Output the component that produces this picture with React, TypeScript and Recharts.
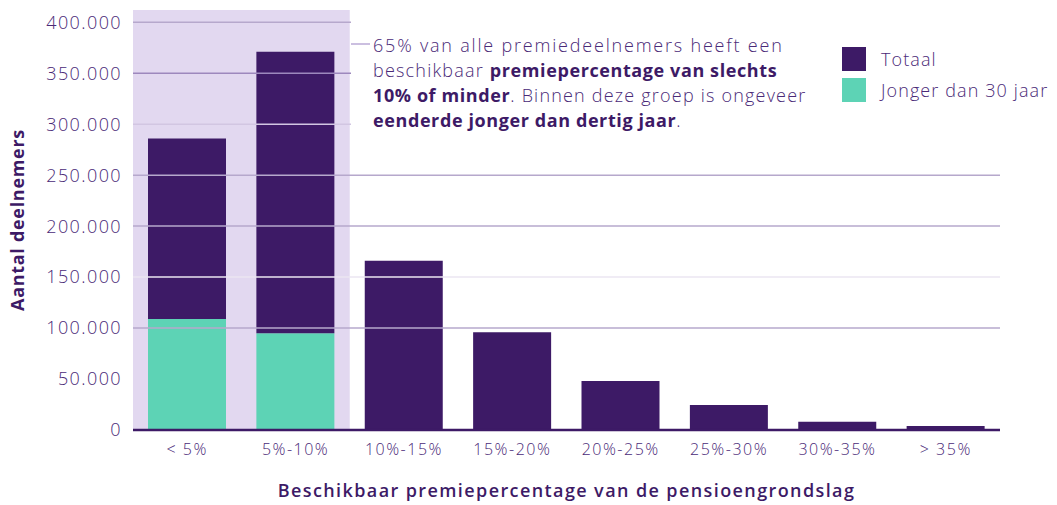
import { BarChart, Bar, XAxis, YAxis, ReferenceArea, ReferenceLine, Label } from "recharts"

const categories = ["< 5%", "5%-10%", "10%-15%", "15%-20%", "20%-25%", "25%-30%", "30%-35%", "> 35%"]
const totaal = [286000, 371000, 166000, 96000, 48000, 24500, 8000, 4000]
const jonger = [109000, 95000, 0, 0, 0, 0, 0, 0]
const yTicks = [0, 50000, 100000, 150000, 200000, 250000, 300000, 350000, 400000]

const PURPLE = "#3d1a66"
const TEAL = "#5dd3b5"
const TEXT = "#4a2a78"
const FONT = "'Open Sans', sans-serif"

// gridline tone per tick value (0 and 50k have none)
const gridTone: Record<number, string> = {
  100000: "#b6a8cc",
  150000: "#ebe6f2",
  200000: "#b6a8cc",
  250000: "#b6a8cc",
  300000: "#d2c6e2",
  350000: "#9d88bd",
  400000: "#b6a8cc",
}

const chartData = categories.map((name, i) => ({
  name,
  jonger: jonger[i],
  rest: totaal[i] - jonger[i],
}))

const fmt = (v: number) => String(v).replace(/\B(?=(\d{3})+(?!\d))/g, ".")

export default function App() {
  return (
    <div style={{ position: "absolute", left: 0, top: 0, width: 1057, height: 505, background: "#fff", fontFamily: FONT }}>
      <BarChart
        width={1057}
        height={505}
        data={chartData}
        margin={{ top: 10, right: 57, bottom: 30, left: 0 }}
        barSize={78}
      >
        <ReferenceArea x1="< 5%" x2="5%-10%" y1={0} y2={412000} fill="#e2d8f0" fillOpacity={1} stroke="none" />
        {yTicks
          .filter((t) => gridTone[t])
          .map((t) => (
            <ReferenceLine key={t} y={t} stroke={gridTone[t]} strokeWidth={1.5} />
          ))}
        <XAxis
          dataKey="name"
          height={45}
          tickLine={false}
          axisLine={{ stroke: PURPLE, strokeWidth: 2.5 }}
          tickMargin={8}
          tick={{ fill: TEXT, fontSize: 16, fontFamily: FONT, fontWeight: 300, letterSpacing: 1.5 }}
          interval={0}
        >
          <Label
            value="Beschikbaar premiepercentage van de pensioengrondslag"
            position="insideBottom"
            offset={-22}
            style={{ fill: PURPLE, fontSize: 18, fontWeight: 600, fontFamily: FONT, letterSpacing: 1.4 }}
          />
        </XAxis>
        <YAxis
          width={133}
          domain={[0, 412000]}
          ticks={yTicks}
          tickFormatter={fmt}
          tickLine={false}
          axisLine={false}
          tickMargin={5}
          tick={{ fill: TEXT, fontSize: 18, fontFamily: FONT, fontWeight: 300, letterSpacing: 1.4 }}
        >
          <Label
            value="Aantal deelnemers"
            angle={-90}
            position="insideLeft"
            offset={18}
            style={{ fill: PURPLE, fontSize: 18, fontWeight: 700, fontFamily: FONT, textAnchor: "middle", letterSpacing: 0.7 }}
          />
        </YAxis>
        <Bar dataKey="jonger" stackId="a" fill={TEAL} isAnimationActive={false} />
        <Bar dataKey="rest" stackId="a" fill={PURPLE} isAnimationActive={false} />
      </BarChart>

      {/* white block behind the note and legend hides the upper gridlines */}
      <div style={{ position: "absolute", left: 351, top: 5, width: 660, height: 135, background: "#fff" }} />
      <div style={{ position: "absolute", left: 351, top: 43, width: 19, height: 2, background: "#cbbfe0" }} />
      <div
        style={{
          position: "absolute",
          left: 373,
          top: 33,
          width: 470,
          fontSize: 18,
          fontWeight: 300,
          letterSpacing: 1.2,
          lineHeight: "25px",
          color: TEXT,
          whiteSpace: "nowrap",
        }}
      >
        <span style={{ letterSpacing: 1.8 }}>65% van alle premiedeelnemers heeft een</span>
        <br />
        beschikbaar <b style={{ color: PURPLE, fontWeight: 700, letterSpacing: 0.6 }}>premiepercentage van slechts</b>
        <br />
        <b style={{ color: PURPLE, fontWeight: 700, letterSpacing: 0.6 }}>10% of minder</b>. Binnen deze groep is ongeveer
        <br />
        <b style={{ color: PURPLE, fontWeight: 700, letterSpacing: 0.6 }}>eenderde jonger dan dertig jaar</b>.
      </div>

      <div style={{ position: "absolute", left: 842, top: 47, fontSize: 18, fontWeight: 300, letterSpacing: 1.1, color: TEXT, whiteSpace: "nowrap" }}>
        <div style={{ display: "flex", alignItems: "center", height: 24, marginBottom: 7 }}>
          <span style={{ width: 24, height: 24, background: PURPLE, display: "inline-block", marginRight: 15 }} />
          Totaal
        </div>
        <div style={{ display: "flex", alignItems: "center", height: 24 }}>
          <span style={{ width: 24, height: 24, background: TEAL, display: "inline-block", marginRight: 15 }} />
          Jonger dan 30 jaar
        </div>
      </div>
    </div>
  )
}
